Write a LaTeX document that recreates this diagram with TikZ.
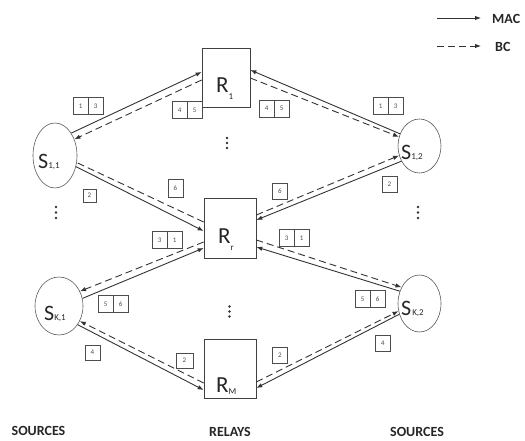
\documentclass[tikz,border=0pt]{standalone}
\usepackage{fontspec}
\setmainfont{Carlito}
\usetikzlibrary{shapes.geometric,arrows.meta}
\newcommand{\subf}{\fontsize{9}{9}\selectfont}
\begin{document}
\begin{tikzpicture}[x=1pt,y=-1pt,
  relay/.style={draw=black!75,line width=0.7pt,inner sep=0pt},
  src/.style={ellipse,draw=black!65,line width=0.6pt,inner sep=0pt},
  mac/.style={draw=black!80,line width=0.9pt,-{Latex[length=6pt,width=4.5pt]}},
  bc/.style={mac,dash pattern=on 7pt off 4pt},
  bcplain/.style={draw=black!80,line width=0.9pt,dash pattern=on 7pt off 4pt},
  cell/.style={draw=black!70,line width=0.6pt,minimum width=14.5pt,minimum height=17pt,inner sep=0pt,font=\fontsize{7}{7}\selectfont,text=black!70},
  single/.style={cell,minimum width=15pt,minimum height=16pt},
  dot/.style={circle,fill=black!80,inner sep=0pt,minimum size=2.6pt},
  lab/.style={font=\bfseries\fontsize{14}{14}\selectfont,text=black!85,inner sep=1pt},
  bigtxt/.style={font=\fontsize{23}{23}\selectfont,text=black!85,inner sep=0pt},
  stxt/.style={font=\fontsize{22}{22}\selectfont,text=black!85,inner sep=0pt}]
\useasboundingbox (0,0) rectangle (525,441);

% relays
\node[relay,minimum width=48pt,minimum height=59pt] (R1) at (226,77.5) {};
\node[relay,minimum width=52pt,minimum height=60pt] (Rr) at (230,228) {};
\node[relay,minimum width=52pt,minimum height=59pt] (RM) at (230,368.5) {};
\node[bigtxt,anchor=base west] (tR1) at (216,93) {R\raisebox{-7pt}{\subf 1}};
\node[bigtxt,anchor=base west] (tRr) at (218,243) {R\raisebox{-7pt}{\subf r}};
\node[bigtxt,anchor=base west] (tRM) at (216,392) {R\raisebox{-2pt}{\subf M}};

% sources
\node[src,minimum width=44pt,minimum height=65pt] (S11) at (55,155.5) {};
\node[src,minimum width=43pt,minimum height=54pt] (S12) at (419.5,146) {};
\node[src,minimum width=48pt,minimum height=58pt] (SK1) at (59,306) {};
\node[src,minimum width=43pt,minimum height=57pt] (SK2) at (419.5,303.5) {};
\node[stxt,anchor=base west] (tS11) at (38,169) {S{\subf 1,1}};
\node[stxt,anchor=base west] (tS12) at (401,160) {S{\subf 1,2}};
\node[stxt,anchor=base west] (tSK1) at (44,320) {S{\subf K,1}};
\node[stxt,anchor=base west] (tSK2) at (401,315) {S\hspace{1pt}{\subf K,2}};

% connectors
\draw[mac] (S11.54) -- ([yshift=5.5pt]R1.west);
\draw[bc] ([yshift=-2.5pt]R1.west) -- (S11.40);
\draw[mac] (S12.148) -- ([yshift=7.5pt]R1.east);
\draw[bc] ([yshift=-0.5pt]R1.east) -- (S12.156);

\draw[mac] (S11.-28) -- ([yshift=-3pt]Rr.west);
\draw[bcplain] ([yshift=6pt]Rr.west) -- (S11.-18);
\draw[mac] (S12.220) -- ([yshift=8pt]Rr.east);
\draw[bc] ([yshift=13pt]Rr.east) -- (S12.205);

\draw[mac] (SK1.18) -- ([yshift=-20pt]Rr.west);
\draw[bc] ([yshift=-14pt]Rr.west) -- (SK1.35);
\draw[mac] (SK2.148) -- ([yshift=-19pt]Rr.east);
\draw[bc] ([yshift=-12pt]Rr.east) -- (SK2.138);

\draw[mac] (SK1.-45) -- ([yshift=-21.5pt]RM.west);
\draw[bc] ([yshift=-14.5pt]RM.west) -- (SK1.-36);
\draw[mac] (SK2.-152) -- ([yshift=-19.5pt]RM.east);
\draw[bc] ([yshift=-13.5pt]RM.east) -- (SK2.-160);

% two-cell boxes
\node[cell,anchor=west] (p1a) at (73,106) {1};
\node[cell,anchor=west] (p1b) at (p1a.east) {3};
\node[cell,anchor=west] (p2a) at (172,110) {4};
\node[cell,anchor=west] (p2b) at (p2a.east) {5};
\node[cell,anchor=west] (p3a) at (259,108.5) {4};
\node[cell,anchor=west] (p3b) at (p3a.east) {5};
\node[cell,anchor=west] (p4a) at (373,106) {1};
\node[cell,anchor=west] (p4b) at (p4a.east) {3};
\node[cell,anchor=west] (p5a) at (152,240) {3};
\node[cell,anchor=west] (p5b) at (p5a.east) {1};
\node[cell,anchor=west] (p6a) at (279,238) {3};
\node[cell,anchor=west] (p6b) at (p6a.east) {1};
\node[cell,anchor=west] (p7a) at (98,304) {5};
\node[cell,anchor=west] (p7b) at (p7a.east) {6};
\node[cell,anchor=west] (p8a) at (355,299) {5};
\node[cell,anchor=west] (p8b) at (p8a.east) {6};

% single boxes
\node[single,minimum width=13pt,minimum height=13pt] (q1) at (89.5,195.5) {2};
\node[single,minimum height=18pt] (q2) at (175.5,188) {6};
\node[single] (q3) at (280,191) {6};
\node[single] (q4) at (389.5,184) {2};
\node[single,minimum height=15pt] (q5) at (92.5,352.5) {4};
\node[single,minimum width=17pt,minimum height=15pt] (q6) at (184.5,360.5) {2};
\node[single] (q7) at (280,355) {2};
\node[single] (q8) at (383,343) {4};

% vertical dots
\foreach \i/\y in {1/138,2/143,3/148} \node[dot] (da\i) at (227,\y) {};
\foreach \i/\y in {1/207,2/212.5,3/218} \node[dot] (db\i) at (56,\y) {};
\foreach \i/\y in {1/207,2/212.5,3/218} \node[dot] (dc\i) at (418,\y) {};
\foreach \i/\y in {1/306.5,2/311.5,3/316.5} \node[dot] (dd\i) at (229.5,\y) {};

% legend
\coordinate (l1s) at (437,18);
\coordinate (l1e) at (481,18);
\coordinate (l2s) at (437,46);
\coordinate (l2e) at (481,46);
\draw[mac] (l1s) -- (l1e);
\draw[bc] (l2s) -- (l2e);
\node[lab,anchor=west] (tMAC) at (491,19) {MAC};
\node[lab,anchor=west] (tBC) at (494,47) {BC};

% bottom labels
\node[lab] (src1) at (38.5,431) {SOURCES};
\node[lab] (rel) at (230,431.5) {RELAYS};
\node[lab] (src2) at (417,431.5) {SOURCES};
\end{tikzpicture}
\end{document}
